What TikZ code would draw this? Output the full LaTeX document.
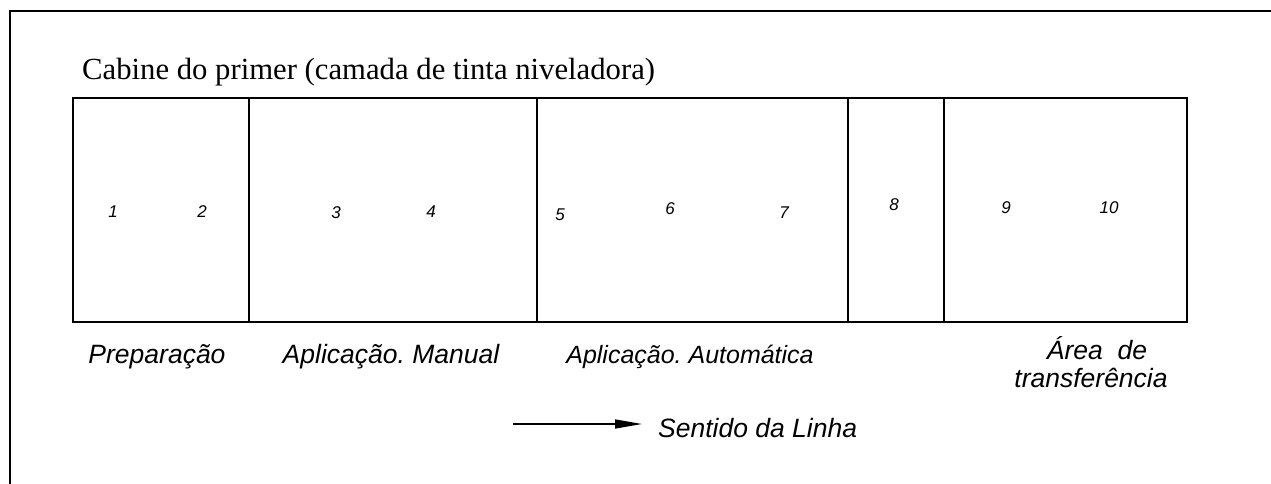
\documentclass[tikz,border=0pt]{standalone}
\usepackage{fontspec}
\setmainfont{Liberation Serif}
\newfontfamily\lsans{Liberation Sans}
\usetikzlibrary{arrows.meta}
\frenchspacing
\begin{document}
\begin{tikzpicture}[x=1pt,y=-1pt,
  frame/.style={line width=2pt},
  num/.style={font=\lsans\itshape\fontsize{17}{20}\selectfont, inner sep=0pt},
  lab/.style={font=\lsans\itshape\fontsize{26.5}{29}\selectfont, inner sep=0pt, anchor=base, align=center},
  title/.style={font=\fontsize{30.7}{34}\selectfont, inner sep=0pt, anchor=base west}]
\useasboundingbox (0,0) rectangle (1271,484);
% outer frame
\draw[frame] (10,484) -- (10,11) -- (1272,11);
% title
\node[title] (tt) at (82,80) {Cabine do primer (camada de tinta niveladora)};
% inner box and dividers
\coordinate (bTL) at (73,98);
\coordinate (bBR) at (1187,322);
\draw[frame] (bTL) rectangle (bBR);
\foreach \xx in {249,537,848,944}{\draw[frame] (\xx,98) -- (\xx,322);}
% station numbers
\node[num] (n1) at (113,212) {1};
\node[num] (n2) at (202,212) {2};
\node[num] (n3) at (336,213) {3};
\node[num] (n4) at (431,212) {4};
\node[num] (n5) at (560,215) {5};
\node[num] (n6) at (670,209) {6};
\node[num] (n7) at (784,213) {7};
\node[num] (n8) at (894,205) {8};
\node[num] (n9) at (1006,208) {9};
\node[num] (n10) at (1109,208) {10};
% area labels
\node[lab] (lp) at (157,363) {Preparação};
\node[lab] (lm) at (391,363) {Aplicação. Manual};
\node[lab, font=\lsans\itshape\fontsize{25}{28}\selectfont] (la) at (690,363) {Aplicação. Automática};
\node[lab] (lt1) at (1097,359) {Área\ \ de};
\node[lab] (lt2) at (1091,387) {transferência};
% direction
\node[lab, anchor=base west] (sent) at (658,437) {Sentido da Linha};
\coordinate (aS) at (513,424);
\draw[line width=1.5pt, -{Triangle[length=27pt,width=9pt]}, shorten >=16pt] (aS) -- (sent.west |- aS);
\end{tikzpicture}
\end{document}
